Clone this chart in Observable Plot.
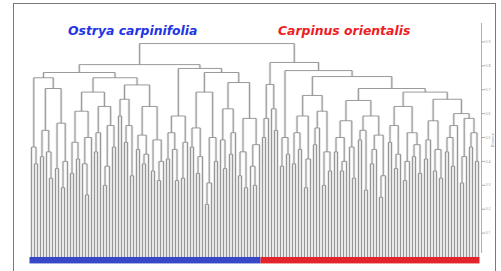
<!DOCTYPE html>
<html><head><meta charset="utf-8">
<script src="https://cdn.jsdelivr.net/npm/d3@7"></script>
<script src="https://cdn.jsdelivr.net/npm/@observablehq/plot@0.6"></script>
<style>
body{margin:0;background:#fff;}
#wrap{position:relative;width:501px;height:271px;overflow:hidden;}
#frame{position:absolute;left:13px;top:3px;width:483px;height:300px;border:1px solid #7a7a7a;box-sizing:border-box;}
#chart{position:absolute;left:0;top:0;}
.title{position:absolute;top:24px;line-height:13px;font-family:"DejaVu Sans",sans-serif;font-weight:bold;font-style:italic;font-size:12.4px;white-space:nowrap;}
</style></head><body>
<div id="wrap"><div id="frame"></div><div id="chart"></div>
<div class="title" id="t0" style="left:68px"></div><div class="title" id="t1" style="left:278px"></div></div>
<script>
// species groups (leaf order left to right)
const species = ["Ostrya carpinifolia", "Carpinus orientalis"];
const speciesLeafCounts = [77, 73];
const speciesBarColors = ["#3846c8", "#e3232b"];
const speciesTitleColors = ["#2233e6", "#ee1c24"];

// right axis
const tickValues = [1, 2, 3, 4, 5, 6, 7, 8, 9];
const tickLabels = ["0.1", "0.2", "0.3", "0.4", "0.5", "0.6", "0.7", "0.8", "0.9"];
const axisLabel = "Distance";

// dendrogram sub-clusters (newick-like: x = leaf, (a,b)h = merge at height h)
const LA1 = "((x,(x,x)3.9)4.6,(((x,x)4.2,(x,(x,x)3.3)4.4)5.3,((x,x)3.7,((x,x)2.9,x)4.0)5.6)7.05)7.5";
const LA2a = "((((x,x)3.5,(x,x)4.1)4.8,((x,(x,x)2.6)3.9,x)5.0)6.1,(((x,x)4.4,x)5.2,(((x,x)3.0,x)3.8,(x,x)4.6)5.5)6.3)6.9";
const LA2b = "(((x,x)5.9,((x,x)4.8,(x,x)3.4)5.5)6.6,(((x,x)4.5,((x,x)3.9,x)4.3)5.1,((x,x)3.6,((x,x)3.2,x)4.0)4.9)6.3)7.2";
const LB1 = "(((x,x)4.1,(x,(x,x)3.2)4.5)5.2,((x,x)3.3,x)4.8)5.9";
const LB2a = "(((x,x)4.6,((x,x)3.5,x)4.2)5.4,(((x,x)2.2,x)3.1,(x,x)4.0)5.0)6.9";
const LB2b = "(((x,(x,x)3.7)4.9,((x,x)4.3,x)5.2)6.2,(((x,x)3.4,(x,x)2.9)4.4,((x,(x,x)3.0)3.8,x)4.7)5.8)7.3";
const RA = "(((x,x)5.0,x)5.8,(x,(x,x)5.3)6.2)7.22";
const RB1 = "((x,x)3.8,(x,x)4.3)5.0";
const RC1 = "((((x,x)3.9,(x,x)4.5)5.2,((x,x)2.9,x)4.1)5.9,(((x,x)4.7,x)5.4,((x,x)3.0,(x,x)3.6)4.4)6.1)6.76";
const RC2a = "((((x,x)4.4,((x,x)3.6,x)4.0)5.0,(x,(x,x)3.3)4.6)5.7,(((x,x)4.9,(x,x)2.8)5.3,(((x,x)3.9,x)4.5,((x,x)2.5,x)3.4)5.1)5.9)6.55";
const RC2b1 = "(((x,x)4.8,((x,x)3.7,x)4.3)5.5,(((x,x)3.2,x)4.0,((x,x)4.2,(x,x)3.5)4.7)5.2)6.3";
const RC2b2 = "((((x,x)4.1,x)4.9,((x,x)3.6,(x,x)3.3)4.5)5.7,((((x,x)4.4,(x,x)3.8)5.0,x)5.5,(((x,x)3.1,x)4.2,((x,x)4.6,(x,x)4.0)5.2)5.8)6.0)6.6";
const skeleton = "((({LA1},({LA2a},{LA2b})7.5)7.72,({LB1},({LB2a},{LB2b})7.72)7.89)8.05,({RA},({RB1},({RC1},({RC2a},({RC2b1},{RC2b2})6.9)7.05)7.55)7.8)8.14)8.93";

const parts = {LA1, LA2a, LA2b, LB1, LB2a, LB2b, RA, RB1, RC1, RC2a, RC2b1, RC2b2};
const newick = skeleton.replace(/\{(\w+)\}/g, (m, k) => parts[k]);

function parse(s) {
  let i = 0;
  function node() {
    if (s[i] === "(") {
      i++;
      const children = [node()];
      while (s[i] === ",") { i++; children.push(node()); }
      i++; // ')'
      const j = i;
      while (i < s.length && /[0-9.]/.test(s[i])) i++;
      if (children.length === 1) return children[0];
      return {children, h: +s.slice(j, i)};
    }
    i++;
    return {h: 0};
  }
  return node();
}
const root = parse(newick);

let leafIdx = 0;
const segs = [];
function layout(n) {
  if (!n.children) { n.x = leafIdx++; return; }
  n.children.forEach(layout);
  n.x = d3.mean(n.children, c => c.x);
  segs.push({x1: n.children[0].x, x2: n.children[n.children.length - 1].x, y1: n.h, y2: n.h, v: false});
  for (const c of n.children) segs.push({x1: c.x, x2: c.x, y1: c.h, y2: n.h, v: true});
}
layout(root);
const nLeaves = leafIdx;
const vsegs = segs.filter(d => d.v);

const bars = [];
let start = 0;
species.forEach((s, k) => {
  bars.push({species: s, x1: start - 0.5, x2: start + speciesLeafCounts[k] - 0.5, color: speciesBarColors[k]});
  start += speciesLeafCounts[k];
});

const chart = Plot.plot({
  width: 501, height: 271,
  marginLeft: 31, marginRight: 20, marginTop: 23, marginBottom: 14.5,
  x: {domain: [0, nLeaves], axis: null},
  y: {domain: [0, 9.77], axis: null},
  style: {background: "transparent"},
  marks: [
    Plot.link(vsegs, {x1: "x1", x2: "x2", y1: "y1", y2: "y2", stroke: "#e2e2e2", strokeWidth: 2.6}),
    Plot.link(segs, {x1: "x1", x2: "x2", y1: "y1", y2: "y2", stroke: "#8f8f8f", strokeWidth: 0.9}),
    Plot.rect(bars, {x1: "x1", x2: "x2", y1: -0.02, y2: -0.29, fill: "color"}),
    Plot.ruleX([nLeaves], {y1: 0.15, y2: 9.77, stroke: "#b0b0b0"}),
    Plot.axisY(tickValues, {anchor: "right", tickSize: 3, tickPadding: 1, fontSize: 3.5,
      stroke: "#aaa", color: "#999", tickFormat: (d, i) => tickLabels[i],
      label: axisLabel, labelAnchor: "center", labelArrow: "none", labelOffset: 12})
  ]
});
document.getElementById("chart").appendChild(chart);
species.forEach((s, k) => {
  const el = document.getElementById("t" + k);
  el.textContent = s;
  el.style.color = speciesTitleColors[k];
});
</script>
</body></html>
